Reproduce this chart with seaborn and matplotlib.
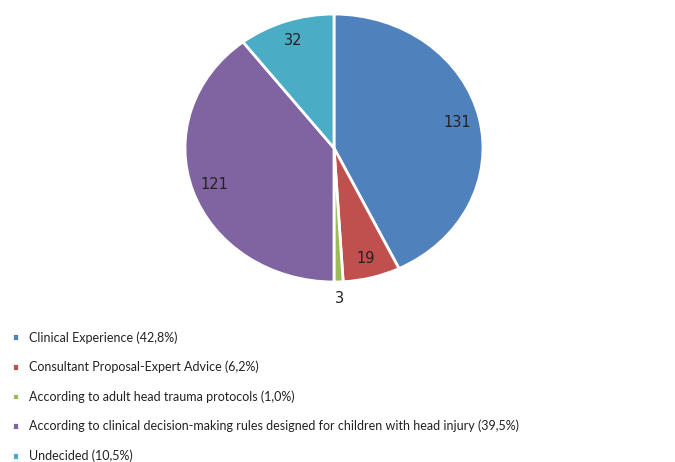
import numpy as np
import seaborn as sns
import matplotlib.pyplot as plt

categories = [
    "Clinical Experience (42,8%)",
    "Consultant Proposal-Expert Advice (6,2%)",
    "According to adult head trauma protocols (1,0%)",
    "According to clinical decision-making rules designed for children with head injury (39,5%)",
    "Undecided (10,5%)",
]
counts = [131, 19, 3, 121, 32]
colors = sns.color_palette(["#4F81BD", "#C0504D", "#9BBB59", "#8064A2", "#4BACC6"])

sns.set_theme(style="white")
plt.rcParams['font.family'] = ['Lato', 'DejaVu Sans']

fig = plt.figure(figsize=(6.75, 4.62), dpi=100)
ax = fig.add_axes([0.252, 0.3606, 0.4856, 0.638])

wedges, _ = ax.pie(counts, colors=colors, startangle=90, counterclock=False,
                   wedgeprops=dict(edgecolor='white', linewidth=2))
ax.set_aspect('auto')
ax.set_xlim(-1.1, 1.1)
ax.set_ylim(-1.1, 1.1)

# value labels near the outer edge of each slice
for w, n in zip(wedges, counts):
    mid = np.deg2rad((w.theta1 + w.theta2) / 2)
    r = 1.12 if n < 5 else 0.85
    ax.text(r * np.cos(mid), r * np.sin(mid), str(n), ha='center', va='center',
            fontsize=10.5, color='#222222', family=['DejaVu Sans'])

fig.legend(wedges, categories, loc='upper left', bbox_to_anchor=(0.008, 0.2965),
           frameon=False, fontsize=9, handlelength=0.6, handleheight=0.6,
           handletextpad=0.75, labelspacing=1.36, borderpad=0, labelcolor='#222222')

plt.savefig('out.png', dpi=100)
